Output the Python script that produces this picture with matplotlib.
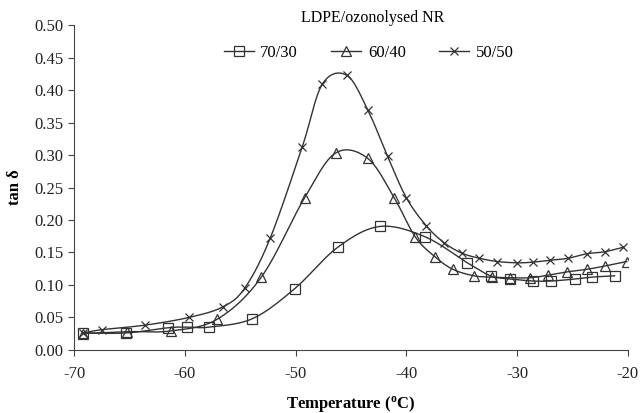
import numpy as np
import matplotlib.pyplot as plt

# LDPE/ozonolysed NR blends: tan delta vs temperature
t_7030 = [-69.2, -65.3, -61.5, -59.8, -57.8, -53.9, -50.1, -46.2, -42.4, -38.3,
          -34.5, -32.4, -30.6, -28.6, -26.9, -24.8, -23.2, -21.2]
tan_7030 = [0.026, 0.026, 0.034, 0.035, 0.035, 0.048, 0.094, 0.158, 0.190, 0.174,
            0.134, 0.114, 0.109, 0.106, 0.106, 0.109, 0.112, 0.114]

t_6040 = [-69.2, -65.2, -61.3, -57.1, -53.1, -49.2, -46.4, -43.5, -41.1, -39.2,
          -37.4, -35.8, -33.9, -32.3, -30.6, -28.8, -27.2, -25.5, -23.7, -22.1, -20.1]
tan_6040 = [0.025, 0.028, 0.029, 0.047, 0.112, 0.234, 0.303, 0.295, 0.234, 0.174,
            0.143, 0.124, 0.114, 0.112, 0.111, 0.111, 0.115, 0.120, 0.124, 0.129, 0.136]

t_5050 = [-69.2, -67.5, -63.6, -59.6, -56.6, -54.6, -52.3, -49.4, -47.6, -45.4,
          -43.5, -41.7, -40.0, -38.2, -36.6, -35.0, -33.4, -31.8, -30.0, -28.6,
          -27.0, -25.4, -23.7, -22.1, -20.4]
tan_5050 = [0.026, 0.031, 0.038, 0.050, 0.066, 0.095, 0.172, 0.313, 0.409, 0.423,
            0.370, 0.298, 0.234, 0.191, 0.165, 0.149, 0.141, 0.136, 0.134, 0.135,
            0.138, 0.141, 0.148, 0.151, 0.158]

labels = ["70/30", "60/40", "50/50"]
markers = ["s", "^", "x"]


def smooth(x, y, n=20):
    # Catmull-Rom curve through the points (like Excel's smoothed line)
    x = np.asarray(x, float)
    y = np.asarray(y, float)
    px = np.concatenate([[2 * x[0] - x[1]], x, [2 * x[-1] - x[-2]]])
    py = np.concatenate([[2 * y[0] - y[1]], y, [2 * y[-1] - y[-2]]])
    s = np.linspace(0, 1, n, endpoint=False)
    xs, ys = [], []
    for i in range(1, len(px) - 2):
        for p, out in ((px, xs), (py, ys)):
            p0, p1, p2, p3 = p[i - 1], p[i], p[i + 1], p[i + 2]
            out.extend(0.5 * (2 * p1 + (-p0 + p2) * s + (2 * p0 - 5 * p1 + 4 * p2 - p3) * s**2
                              + (-p0 + 3 * p1 - 3 * p2 + p3) * s**3))
    xs.append(x[-1])
    ys.append(y[-1])
    return xs, ys


plt.rcParams.update({'font.family': 'Liberation Serif', 'font.size': 12,
                     'axes.unicode_minus': False})
fig = plt.figure(figsize=(6.4, 4.13), dpi=100)
ax = fig.add_axes([0.116, 0.153, 0.865, 0.786])

col = '#333333'
series = [(t_7030, tan_7030), (t_6040, tan_6040), (t_5050, tan_5050)]
for (t, v), lab, m in zip(series, labels, markers):
    sx, sy = smooth(t, v)
    ax.plot(sx, sy, color=col, lw=1.0)
    ms = 6 if m == "x" else 6.5
    ax.plot(t, v, linestyle='none', marker=m, ms=ms, mfc='none', mec=col, mew=0.9)
    ax.plot([], [], color=col, lw=1.0, marker=m, ms=ms, mfc='none', mec=col, mew=0.9, label=lab)

ax.set_xlim(-70, -20)
ax.set_ylim(0, 0.5)
ax.set_xticks(np.arange(-70, -19, 10))
ax.set_yticks(np.arange(0, 0.501, 0.05))
ax.yaxis.set_major_formatter(plt.FormatStrFormatter('%.2f'))
for s in ['top', 'right']:
    ax.spines[s].set_visible(False)
for s in ['left', 'bottom']:
    ax.spines[s].set_color('#444444')
ax.tick_params(direction='out', length=4, color='#444444', labelsize=12, labelcolor='#222222')
ax.tick_params(axis='x', pad=8)

ax.set_xlabel('Temperature ($\\mathregular{^{o}}$C)', fontweight='bold', fontsize=12, labelpad=8)
ax.set_ylabel('tan δ', fontweight='bold', fontsize=12, labelpad=8)

ax.text(0.539, 1.01, 'LDPE/ozonolysed NR', transform=ax.transAxes, ha='center', fontsize=11.5)
ax.legend(loc='upper center', bbox_to_anchor=(0.532, 0.985), ncol=3, frameon=False,
          fontsize=12, handlelength=1.8, columnspacing=2.0, handletextpad=0.4)

fig.savefig('out.png', dpi=100)
